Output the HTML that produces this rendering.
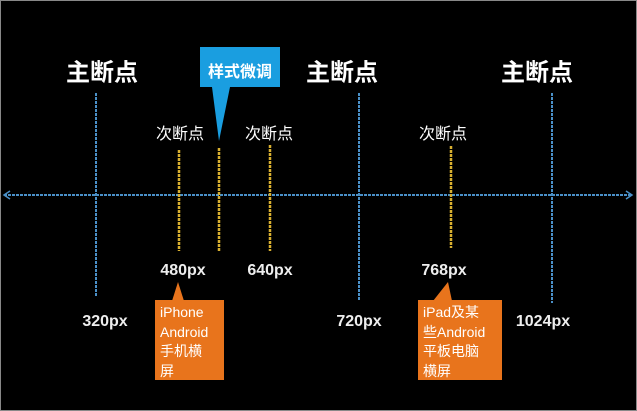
<!DOCTYPE html>
<html><head><meta charset="utf-8"><style>
body{margin:0;background:#000;}
.c{position:relative;width:637px;height:411px;background:#000;overflow:hidden;font-family:"Liberation Sans","Noto Sans CJK SC",sans-serif;color:#fff;}
.t{position:absolute;white-space:nowrap;transform:translate(-50%,-50%);}
.big{font-size:24px;font-weight:bold;}
.mid{font-size:16px;}
.px{font-size:16px;font-weight:bold;color:#eee;}
.box{position:absolute;background:#e8741c;color:#fff;font-size:14px;line-height:19.5px;padding:3px 5px;box-sizing:border-box;}
</style></head><body><div class="c">
<svg width="637" height="411" style="position:absolute;left:0;top:0">
<rect x="0.5" y="0.5" width="636" height="410" fill="none" stroke="#888" stroke-width="1"/>
<g stroke="#4a90c8" stroke-width="2" stroke-dasharray="3,1">
<line x1="4" y1="195" x2="632" y2="195"/>
<line x1="96" y1="93" x2="96" y2="296"/>
<line x1="359" y1="93" x2="359" y2="300"/>
<line x1="552" y1="93" x2="552" y2="303"/>
</g>
<path d="M10 191 L4 195 L10 199 M626 191 L632 195 L626 199" stroke="#4a90c8" stroke-width="1.5" fill="none"/>
<g stroke="#d9b030" stroke-width="2.5" stroke-dasharray="3,1">
<line x1="179" y1="150" x2="179" y2="251"/>
<line x1="219" y1="148" x2="219" y2="251"/>
<line x1="270" y1="145" x2="270" y2="251"/>
<line x1="451" y1="146" x2="451" y2="248"/>
</g>
<polygon points="200,47 280,47 280,87 230,87 219,141 212,87 200,87" fill="#1a9ee0"/>
<polygon points="172,301 178,282 184,301" fill="#e8741c"/>
<polygon points="433,301 448,282 452,301" fill="#e8741c"/>
</svg>
<div class="t big" style="left:102px;top:70px">主断点</div>
<div class="t big" style="left:342px;top:70px">主断点</div>
<div class="t big" style="left:537px;top:70px">主断点</div>
<div class="t mid" style="left:240px;top:70px;font-weight:bold">样式微调</div>
<div class="t mid" style="left:180px;top:132px">次断点</div>
<div class="t mid" style="left:269px;top:132px">次断点</div>
<div class="t mid" style="left:443px;top:132px">次断点</div>
<div class="t px" style="left:183px;top:271px">480px</div>
<div class="t px" style="left:270px;top:271px">640px</div>
<div class="t px" style="left:444px;top:271px">768px</div>
<div class="t px" style="left:105px;top:322px">320px</div>
<div class="t px" style="left:359px;top:322px">720px</div>
<div class="t px" style="left:543px;top:322px">1024px</div>
<div class="box" style="left:155px;top:300px;width:69px;height:80px">iPhone<br>Android<br>手机横<br>屏</div>
<div class="box" style="left:418px;top:300px;width:84px;height:80px">iPad及某<br>些Android<br>平板电脑<br>横屏</div>
</div></body></html>
